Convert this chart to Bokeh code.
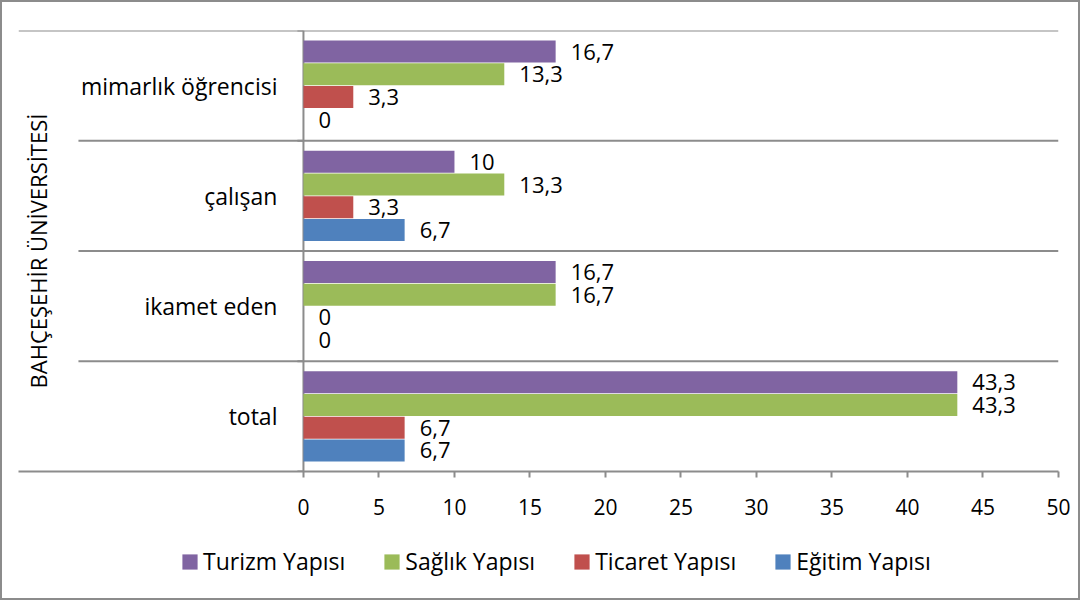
import math
from bokeh.plotting import figure
from bokeh.layouts import column
from bokeh.models import ColumnDataSource, Range1d, Legend, LegendItem, FixedTicker
from bokeh.core.properties import value
from bokeh.embed import file_html
from bokeh.resources import INLINE

# ---- data ----
group_label = "BAHÇEŞEHİR ÜNİVERSİTESİ"
categories = ["mimarlık öğrencisi", "çalışan", "ikamet eden", "total"]
series_names = ["Turizm Yapısı", "Sağlık Yapısı", "Ticaret Yapısı", "Eğitim Yapısı"]
turizm = [16.7, 10, 16.7, 43.3]
saglik = [13.3, 13.3, 16.7, 43.3]
ticaret = [3.3, 3.3, 0, 6.7]
egitim = [0, 6.7, 0, 6.7]
x_ticks = [0, 5, 10, 15, 20, 25, 30, 35, 40, 45, 50]

# ---- style ----
FONT = "Open Sans"
GRAY = "#8c8c8c"
colors = ["#8064A2", "#9BBB59", "#C0504D", "#4F81BD"]
series_values = [turizm, saglik, ticaret, egitim]

W = 1076
H1, H2 = 528, 68
n = len(categories)
centers = [n - i - 0.5 for i in range(n)]
step = 0.206

p = figure(width=W, height=H1,
           x_range=Range1d(-18.87, 50), y_range=Range1d(0, n),
           output_backend="svg", toolbar_location=None,
           y_axis_location=None,
           min_border_left=16, min_border_right=20,
           min_border_top=28, min_border_bottom=59)
p.outline_line_color = None
p.xgrid.visible = False
p.ygrid.visible = False

def fmt(v):
    return ("%g" % v).replace(".", ",")

# separator lines
xmin = p.x_range.start
p.segment(x0=[xmin], y0=[n], x1=[50], y1=[n], line_color=GRAY, line_width=2)
p.segment(x0=[-14.9] * (n - 1), y0=list(range(1, n)), x1=[50] * (n - 1),
          y1=list(range(1, n)), line_color=GRAY, line_width=2)
# vertical value axis line + small ticks
p.segment(x0=[0], y0=[0], x1=[0], y1=[n], line_color=GRAY, line_width=2)
p.segment(x0=[-0.4] * (n + 1), y0=list(range(n + 1)), x1=[0] * (n + 1),
          y1=list(range(n + 1)), line_color=GRAY, line_width=2)

sources = []
for k, (name, vals, col) in enumerate(zip(series_names, series_values, colors)):
    ys = [c + (1.5 - k) * step for c in centers]
    src = ColumnDataSource(dict(y=ys, v=vals, lab=[fmt(v) for v in vals]))
    sources.append(src)
    p.hbar(y="y", right="v", left=0, height=step * 0.97, source=src,
           fill_color=col, line_color=None)
    p.text(x="v", y="y", text="lab", source=src, x_offset=15,
           text_align="left", text_baseline="middle",
           text_font=value(FONT), text_font_size=value("22px"), text_color="black")

# category labels
p.text(x=[0] * n, y=centers, text=categories, x_offset=-26,
       text_align="right", text_baseline="middle",
       text_font=value(FONT), text_font_size=value("23px"), text_color="black")
# group label
p.text(x=[-17.55], y=[n / 2], text=[group_label], angle=math.pi / 2,
       text_align="center", text_baseline="middle",
       text_font=value(FONT), text_font_size=value("22px"), text_color="black")

ax = p.xaxis[0]
ax.ticker = FixedTicker(ticks=x_ticks)
ax.axis_line_color = GRAY
ax.axis_line_width = 2
ax.major_tick_line_color = GRAY
ax.major_tick_line_width = 2
ax.major_tick_out = 6
ax.major_tick_in = 0
ax.minor_tick_line_color = None
ax.major_label_text_font = FONT
ax.major_label_text_font_size = "21px"
ax.major_label_text_color = "black"
ax.major_label_standoff = 21

# legend figure (same series, drawn out of view; only the legend is visible)
p2 = figure(width=W, height=H2, x_range=Range1d(0, 50), y_range=Range1d(100, 101),
            output_backend="svg", toolbar_location=None,
            x_axis_location=None, y_axis_location=None,
            min_border_left=16, min_border_right=20,
            min_border_top=0, min_border_bottom=0)
p2.outline_line_color = None
p2.xgrid.visible = False
p2.ygrid.visible = False
items = []
for name, col, src in zip(series_names, colors, sources):
    r = p2.hbar(y="y", right="v", left=0, height=step, source=src,
                fill_color=col, line_color=None)
    items.append(LegendItem(label=name, renderers=[r]))
legend = Legend(items=items, orientation="horizontal", location=(162, 21),
                border_line_color=None, background_fill_alpha=0,
                glyph_width=19, glyph_height=19, label_standoff=4, spacing=37,
                label_text_font=FONT, label_text_font_size="23px",
                label_text_color="black",
                margin=0, padding=5)
p2.add_layout(legend, "center")

layout = column(p, p2, spacing=0, styles={"border": "2px solid #8c8c8c"})

open("out.html", "w").write(file_html(layout, INLINE))
